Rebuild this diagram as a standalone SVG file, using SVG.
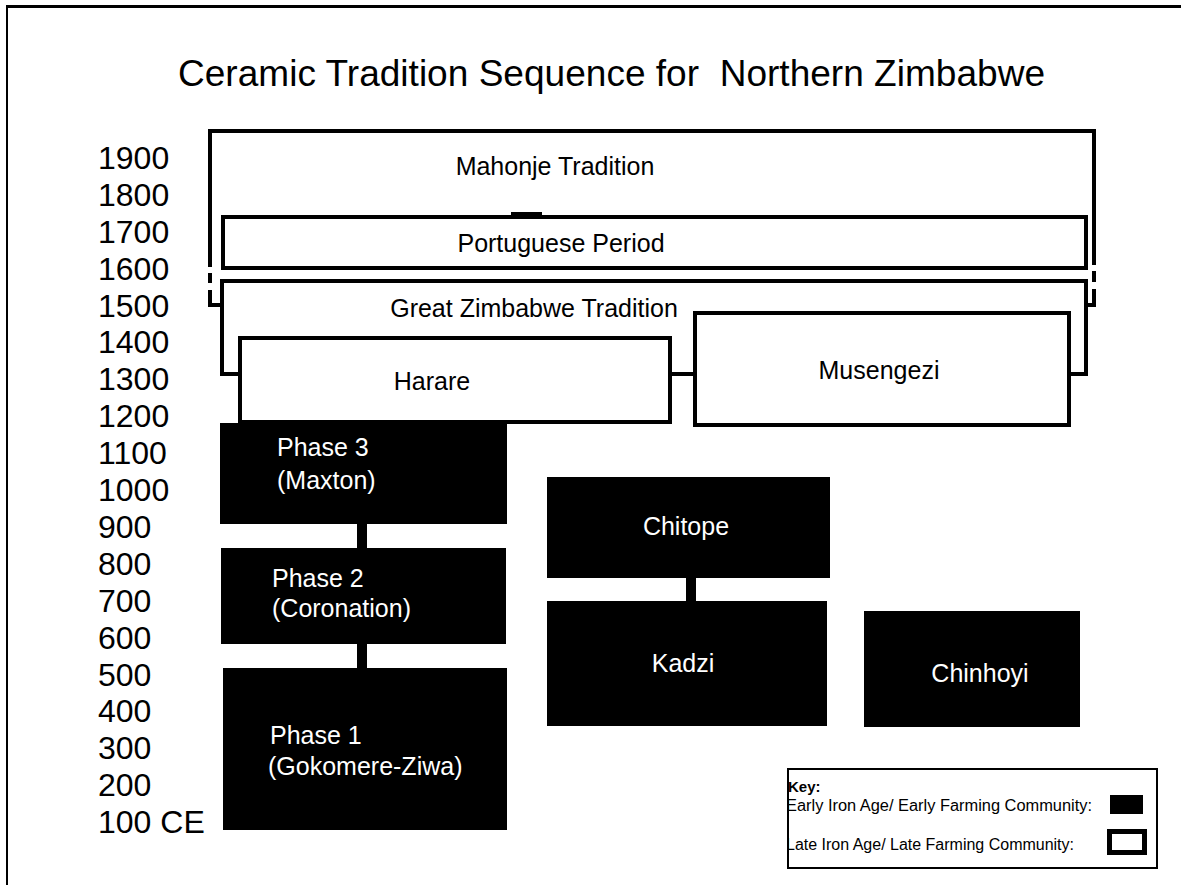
<svg xmlns="http://www.w3.org/2000/svg" width="1181" height="885" viewBox="0 0 1181 885">
<style>
text{font-family:"Liberation Sans",Arial,sans-serif;fill:#000}
.yr{font-size:32px}
.lbl{font-size:25px}
.wt{fill:#fff}
.late{fill:#fff;stroke:#000;stroke-width:4}
.early{fill:#000}
.key{font-size:16px}
</style>
<defs>
<clipPath id="keyclip"><rect x="789" y="768" width="368" height="100"/></clipPath>
</defs>
<rect x="0" y="0" width="1181" height="885" fill="#fff"/>
<g id="frame" fill="none" stroke="#000">
<line x1="7" y1="6.5" x2="1181" y2="6.5" stroke-width="3"/>
<line x1="7" y1="5" x2="7" y2="885" stroke-width="2"/>
</g>
<text x="178" y="86" font-size="37" xml:space="preserve" style="white-space:pre" textLength="867" lengthAdjust="spacingAndGlyphs">Ceramic Tradition Sequence for  Northern Zimbabwe</text>
<g id="years" class="yr">
<text class="yr" x="98" y="169">1900</text>
<text class="yr" x="98" y="206">1800</text>
<text class="yr" x="98" y="243">1700</text>
<text class="yr" x="98" y="280">1600</text>
<text class="yr" x="98" y="317">1500</text>
<text class="yr" x="98" y="353">1400</text>
<text class="yr" x="98" y="390">1300</text>
<text class="yr" x="98" y="427">1200</text>
<text class="yr" x="98" y="464">1100</text>
<text class="yr" x="98" y="501">1000</text>
<text class="yr" x="98" y="538">900</text>
<text class="yr" x="98" y="575">800</text>
<text class="yr" x="98" y="612">700</text>
<text class="yr" x="98" y="649">600</text>
<text class="yr" x="98" y="686">500</text>
<text class="yr" x="98" y="722">400</text>
<text class="yr" x="98" y="759">300</text>
<text class="yr" x="98" y="796">200</text>
<text class="yr" x="98" y="833">100 CE</text>
</g>
<g id="mahonje">
<rect class="late" x="210" y="131" width="884" height="174"/>
<rect x="206" y="267" width="9" height="6" fill="#fff"/>
<rect x="206" y="283" width="9" height="7" fill="#fff"/>
<rect x="1089" y="265" width="9" height="6" fill="#fff"/>
<rect x="1089" y="282" width="9" height="7" fill="#fff"/>
<text class="lbl" x="555" y="175" text-anchor="middle">Mahonje Tradition</text>
</g>
<g id="portuguese">
<rect class="late" x="223" y="217" width="863" height="51"/>
<rect x="511" y="212" width="31" height="4" fill="#000"/>
<text class="lbl" x="561" y="252" text-anchor="middle">Portuguese Period</text>
</g>
<g id="great-zimbabwe">
<rect class="late" x="222" y="281" width="864" height="93"/>
<text class="lbl" x="534" y="317" text-anchor="middle">Great Zimbabwe Tradition</text>
</g>
<g id="harare">
<rect class="late" x="240" y="338" width="430" height="84" stroke-width="5"/>
<text class="lbl" x="432" y="390" text-anchor="middle">Harare</text>
</g>
<g id="musengezi">
<rect class="late" x="695" y="313" width="374" height="112" stroke-width="5"/>
<text class="lbl" x="879" y="379" text-anchor="middle">Musengezi</text>
</g>
<g id="connectors" fill="#000">
<rect x="357" y="523" width="10" height="26"/>
<rect x="357" y="643" width="10" height="26"/>
<rect x="686" y="576" width="10" height="26"/>
</g>
<g id="phase3">
<rect class="early" x="220" y="423" width="287" height="101"/>
<text class="lbl wt" x="277" y="456">Phase 3</text>
<text class="lbl wt" x="277" y="489">(Maxton)</text>
</g>
<g id="phase2">
<rect class="early" x="221" y="548" width="285" height="96"/>
<text class="lbl wt" x="272" y="587">Phase 2</text>
<text class="lbl wt" x="272" y="617">(Coronation)</text>
</g>
<g id="phase1">
<rect class="early" x="223" y="668" width="284" height="162"/>
<text class="lbl wt" x="270" y="744">Phase 1</text>
<text class="lbl wt" x="268" y="775">(Gokomere-Ziwa)</text>
</g>
<g id="chitope">
<rect class="early" x="547" y="477" width="283" height="101"/>
<text class="lbl wt" x="686" y="535" text-anchor="middle">Chitope</text>
</g>
<g id="kadzi">
<rect class="early" x="547" y="601" width="280" height="125"/>
<text class="lbl wt" x="683" y="672" text-anchor="middle">Kadzi</text>
</g>
<g id="chinhoyi">
<rect class="early" x="864" y="611" width="216" height="116"/>
<text class="lbl wt" x="980" y="682" text-anchor="middle">Chinhoyi</text>
</g>
<g id="key">
<rect x="788" y="769" width="369" height="99" fill="#fff" stroke="#000" stroke-width="2"/>
<g clip-path="url(#keyclip)">
<text x="788" y="792" font-size="15" font-weight="bold">Key:</text>
<text class="key" x="786" y="811" textLength="306" lengthAdjust="spacingAndGlyphs">Early Iron Age/ Early Farming Community:</text>
<text class="key" x="786" y="850" textLength="288" lengthAdjust="spacingAndGlyphs">Late Iron Age/ Late Farming Community:</text>
</g>
<rect x="1110" y="795" width="33" height="19" fill="#000"/>
<rect x="1109.5" y="831.5" width="35" height="21" fill="#fff" stroke="#000" stroke-width="5"/>
</g>
</svg>
